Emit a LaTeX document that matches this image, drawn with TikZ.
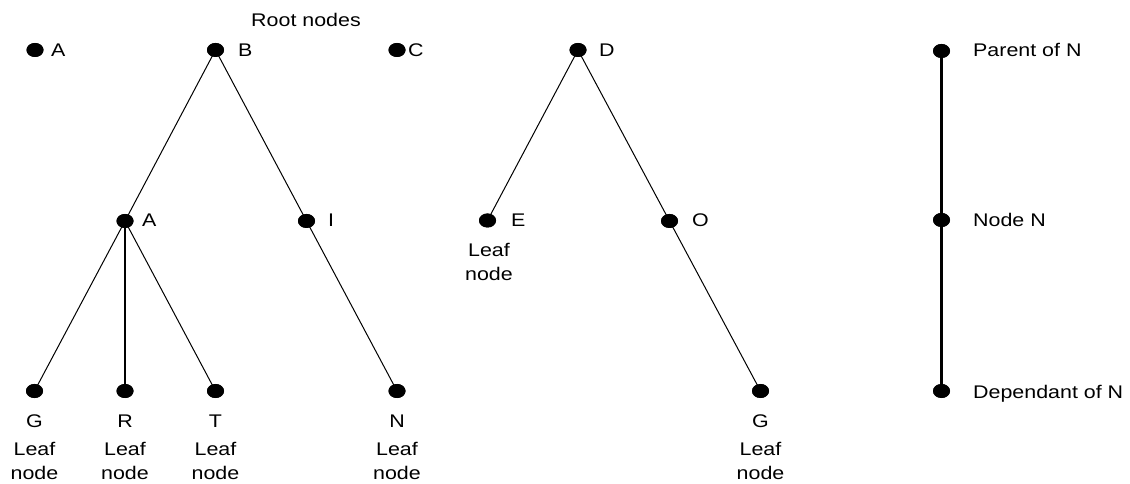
\documentclass[tikz,border=0pt]{standalone}
\usepackage{fontspec}
\setmainfont{Liberation Sans}[FakeStretch=1.17]
\usetikzlibrary{shapes.geometric}
\tikzset{
  dot/.style={ellipse,fill=black,draw=none,minimum width=17bp,minimum height=14bp,inner sep=0pt},
  txt/.style={inner sep=0pt,font=\fontsize{18.3bp}{24bp}\selectfont},
  lbl/.style={txt,anchor=base west},
  clbl/.style={txt,anchor=base},
  leaf/.style={txt,anchor=north,align=center},
  thin edge/.style={line width=1bp,black},
  thick edge/.style={line width=2.2bp,black}
}
\begin{document}
\begin{tikzpicture}[x=1bp,y=-1bp]
\useasboundingbox (0,0) rectangle (1130,484);
% dots
\node[dot] (A0) at (35,50) {};
\node[dot] (B) at (215.5,50) {};
\node[dot] (C) at (397,50) {};
\node[dot] (D) at (578,50) {};
\node[dot] (P) at (941.5,51) {};
\node[dot] (A1) at (125,221) {};
\node[dot] (I) at (306.5,221) {};
\node[dot] (E) at (487.5,220.5) {};
\node[dot] (O) at (669.5,221) {};
\node[dot] (NN) at (941.5,220) {};
\node[dot] (G) at (34.5,391) {};
\node[dot] (R) at (125,391) {};
\node[dot] (T) at (215.5,391) {};
\node[dot] (N) at (397,391) {};
\node[dot] (G2) at (760.5,391) {};
\node[dot] (DN) at (941.5,391) {};
% edges
\draw[thin edge] (B.center) -- (A1.center);
\draw[thin edge] (B.center) -- (I.center);
\draw[thin edge] (A1.center) -- (G.center);
\draw[thick edge] (A1.center) -- (R.center);
\draw[thin edge] (A1.center) -- (T.center);
\draw[thin edge] (I.center) -- (N.center);
\draw[thin edge] (D.center) -- (E.center);
\draw[thin edge] (D.center) -- (O.center);
\draw[thin edge] (O.center) -- (G2.center);
\draw[thick edge] (P.center) -- (NN.center);
\draw[thick edge] (NN.center) -- (DN.center);
% dots over the line ends
\foreach \n in {A0,B,C,D,P,A1,I,E,O,NN,G,R,T,N,G2,DN}{\fill (\n.center) ellipse (8.5bp and 7bp);}
% labels
\node[clbl] (root) at (306,27) {Root nodes};
\node[lbl] (lA0) at (51,57) {A};
\node[lbl] (lB) at (238,57) {B};
\node[lbl] (lC) at (408,57) {C};
\node[lbl] (lD) at (599,57) {D};
\node[lbl] (lP) at (973,57) {Parent of N};
\node[lbl] (lA1) at (142,227) {A};
\node[lbl] (lI) at (328,227) {I};
\node[lbl] (lE) at (511,227) {E};
\node[lbl] (lO) at (692,227) {O};
\node[lbl] (lNN) at (973,227) {Node N};
\node[lbl] (lDN) at (973,398) {Dependant of N};
\node[clbl] (lG) at (34.5,427) {G};
\node[clbl] (lR) at (125,427) {R};
\node[clbl] (lT) at (215.5,427) {T};
\node[clbl] (lN) at (397,427) {N};
\node[clbl] (lG2) at (760.5,427) {G};
\node[leaf] (fG) at (34.5,442.5) {Leaf\\node};
\node[leaf] (fR) at (125,442.5) {Leaf\\node};
\node[leaf] (fT) at (215.5,442.5) {Leaf\\node};
\node[leaf] (fN) at (397,442.5) {Leaf\\node};
\node[leaf] (fG2) at (760.5,442.5) {Leaf\\node};
\node[leaf] (fE) at (489,243) {Leaf\\node};
\end{tikzpicture}
\end{document}
